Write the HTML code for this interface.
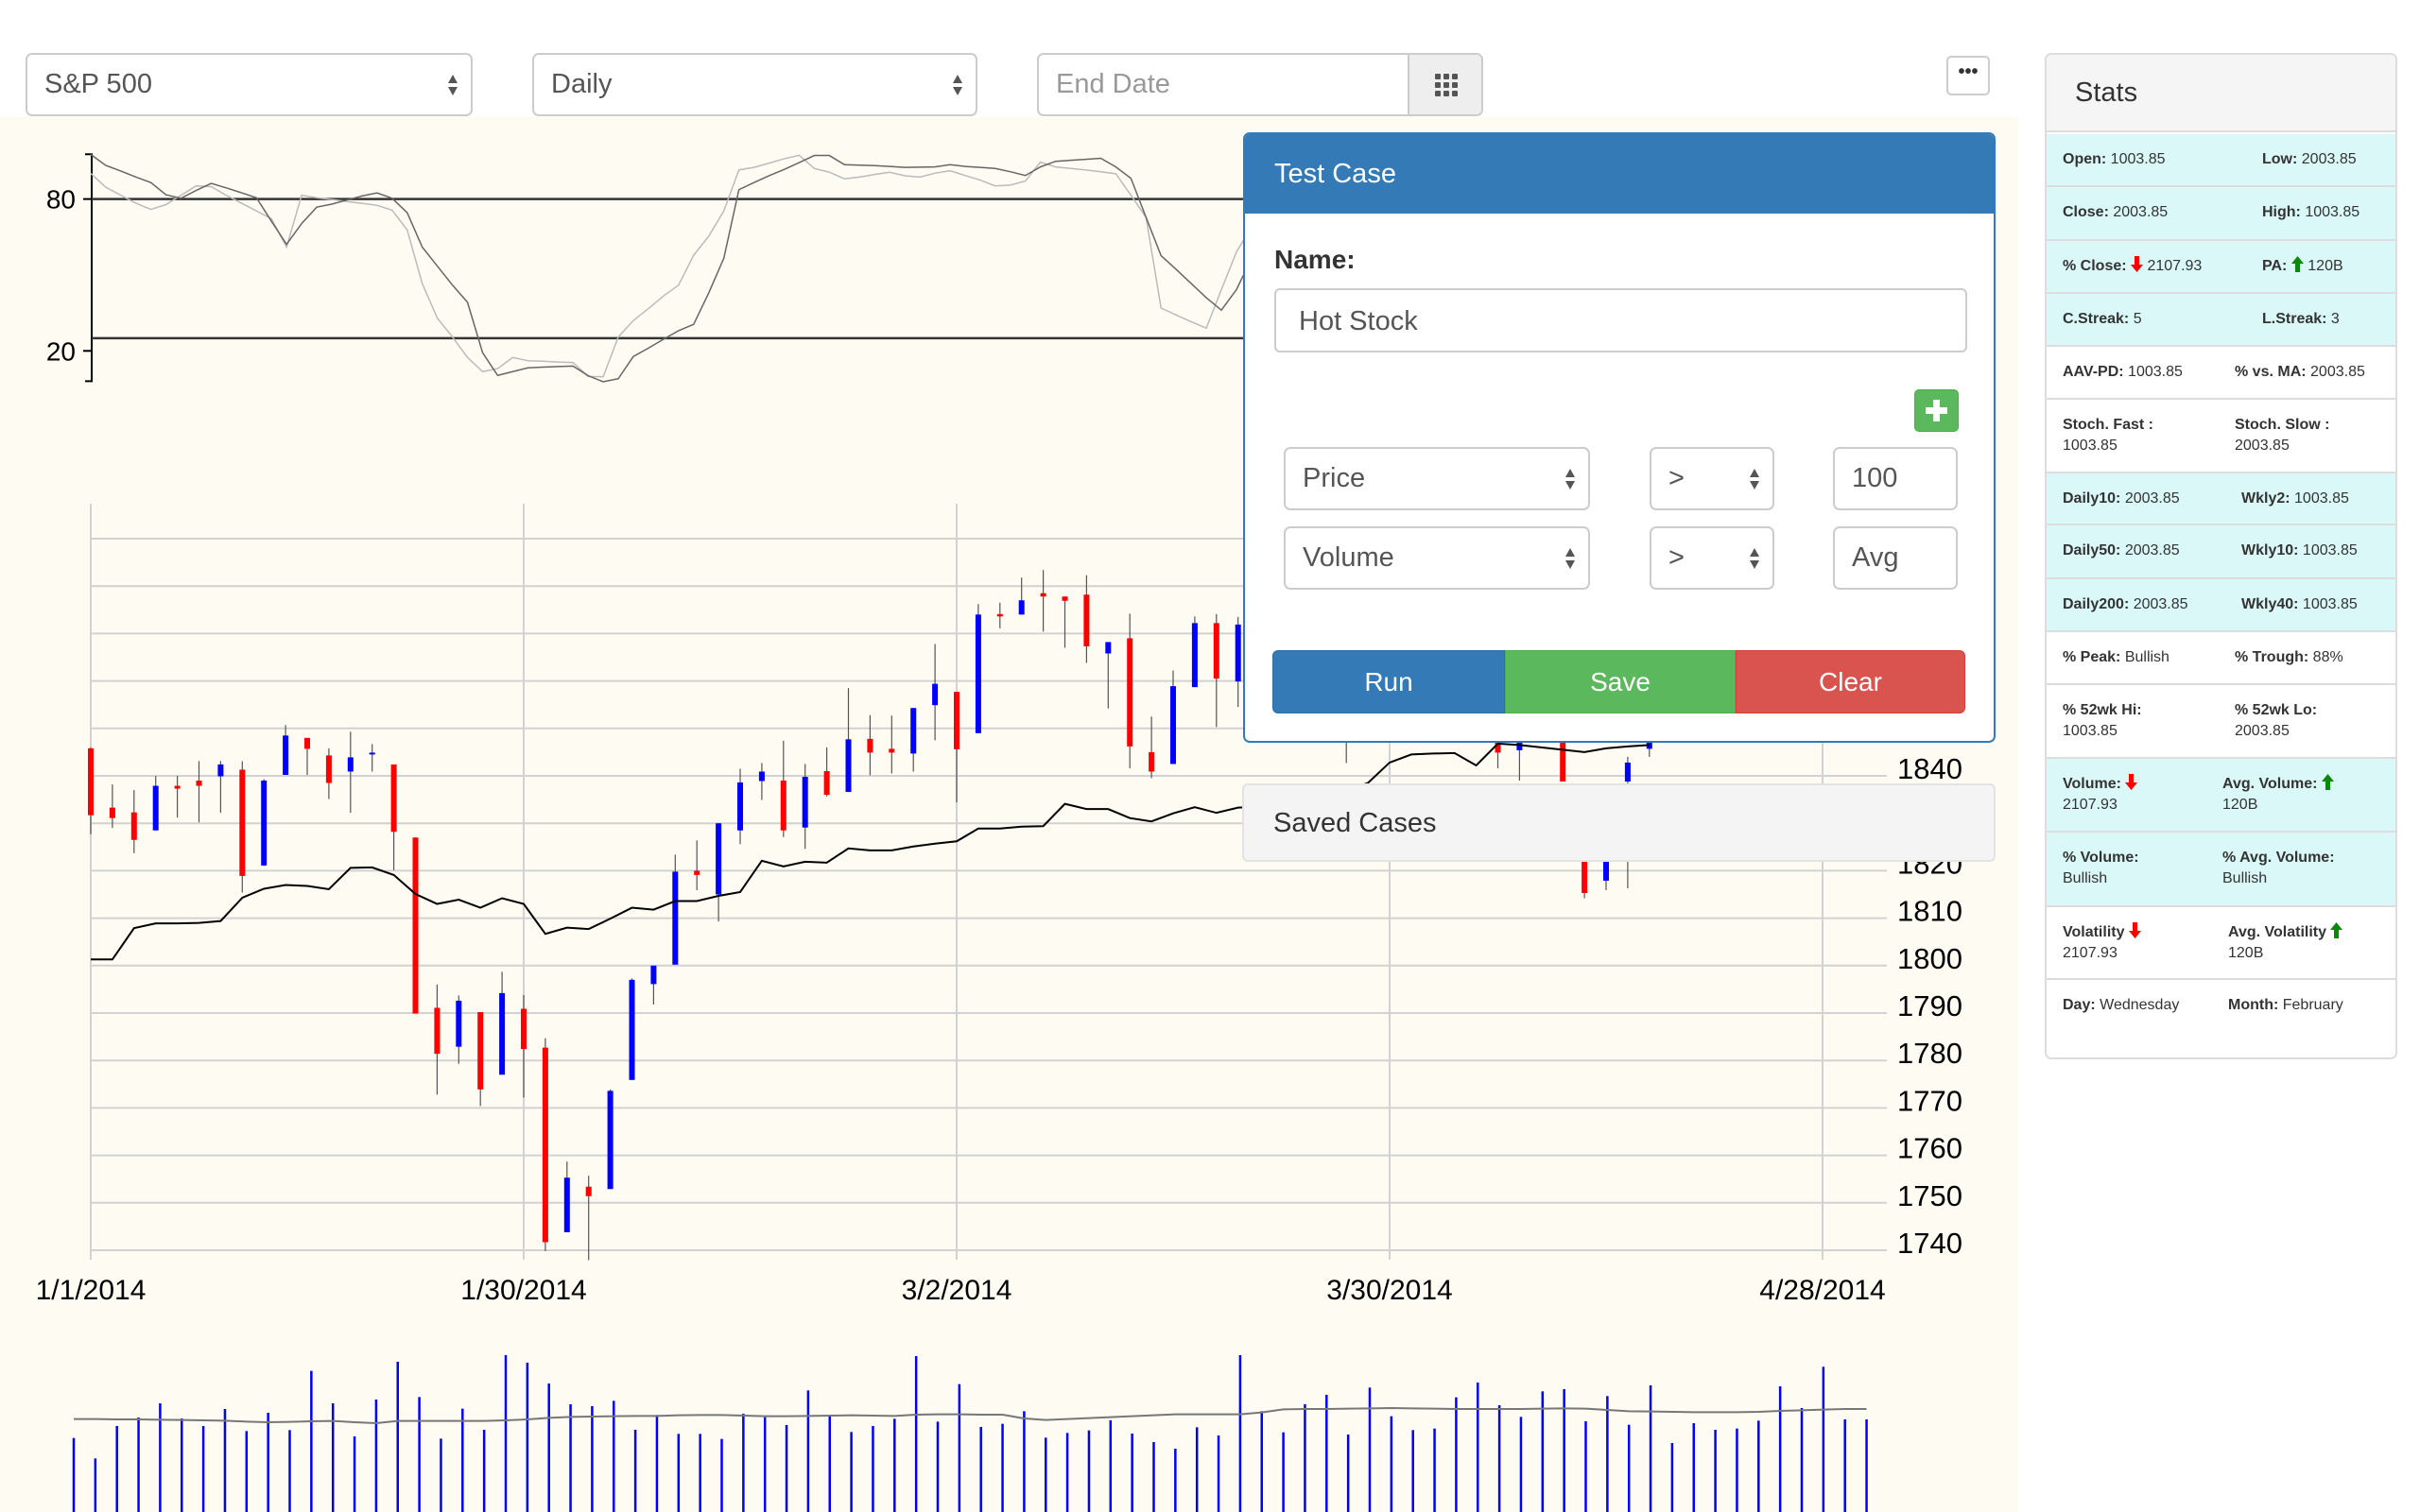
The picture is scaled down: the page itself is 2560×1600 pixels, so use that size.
<!DOCTYPE html>
<html><head><meta charset="utf-8">
<style>
*{box-sizing:border-box;margin:0;padding:0}
body{width:2560px;height:1600px;position:relative;overflow:hidden;background:#fff;font-family:"Liberation Sans",Arial,sans-serif;color:#333}
.abs{position:absolute}
.sel{position:absolute;background:#fff;border:2px solid #ccc;border-radius:7px;font-size:29px;color:#555;padding-left:18px;display:flex;align-items:center}
.arr{position:absolute;right:12px;top:50%;transform:translateY(-50%);width:14px;height:26px}
.btn{position:absolute;color:#fff;font-size:28px;display:flex;align-items:center;justify-content:center}
.row{position:absolute;left:2px;width:370px;border-top:2px solid #ddd;font-size:16px;line-height:22px;padding-top:16px}
.row .l{position:absolute;left:17px}
.row .r{position:absolute}
.cy{background:#daf8f8}
b{font-weight:bold;color:#333}
.up{color:#0a8a0a}.dn{color:#f00}
</style></head><body>
<div class="abs" style="left:0;top:124px;width:2135px;height:1476px;background:#fefbf3"></div>

<svg class="abs" style="left:0;top:0" width="2560" height="1600">
<g id="stoch"></g>
<g id="price"></g>
<g id="vol"></g>
</svg>

<!-- top controls -->
<div class="sel" style="left:27px;top:56px;width:473px;height:67px">S&amp;P 500<svg class="arr" viewBox="0 0 14 26"><path d="M7 2L12 11H2Z M7 24L12 15H2Z" fill="#555"/></svg></div>
<div class="sel" style="left:563px;top:56px;width:471px;height:67px">Daily<svg class="arr" viewBox="0 0 14 26"><path d="M7 2L12 11H2Z M7 24L12 15H2Z" fill="#555"/></svg></div>
<div class="sel" style="left:1097px;top:56px;width:472px;height:67px;color:#999;border-radius:7px">End Date
<div style="position:absolute;right:0;top:0;width:78px;height:63px;background:#eee;border-left:2px solid #ccc;border-radius:0 6px 6px 0">
<svg width="78" height="63" viewBox="0 0 78 63"><g fill="#555"><rect x="27" y="20" width="6" height="6" rx="1"/><rect x="36" y="20" width="6" height="6" rx="1"/><rect x="45" y="20" width="6" height="6" rx="1"/><rect x="27" y="29" width="6" height="6" rx="1"/><rect x="36" y="29" width="6" height="6" rx="1"/><rect x="45" y="29" width="6" height="6" rx="1"/><rect x="27" y="38" width="6" height="6" rx="1"/><rect x="36" y="38" width="6" height="6" rx="1"/><rect x="45" y="38" width="6" height="6" rx="1"/></g></svg></div></div>
<div class="abs" style="left:2059px;top:59px;width:46px;height:42px;border:2px solid #ccc;border-radius:5px;background:#fff;text-align:center;font-size:20px;line-height:30px;font-weight:bold;color:#333">•••</div>

<!-- modal -->
<div class="abs" style="left:1315px;top:140px;width:796px;height:646px;background:#fff;border:2px solid #337ab7;border-radius:7px;overflow:hidden">
<div style="height:84px;background:#337ab7;color:#fff;font-size:29px;padding:26px 0 0 31px">Test Case</div>
<div style="position:absolute;left:31px;top:117px;font-size:28px;font-weight:bold;color:#333">Name:</div>
<div style="position:absolute;left:31px;top:163px;width:733px;height:68px;border:2px solid #ccc;border-radius:6px;font-size:29px;color:#555;padding:17px 0 0 24px">Hot Stock</div>
<div style="position:absolute;left:708px;top:270px;width:47px;height:45px;background:#5cb85c;border-radius:5px;border:1px solid #4cae4c"><svg width="45" height="43"><rect x="19" y="10" width="7" height="23" fill="#fff"/><rect x="11" y="18" width="23" height="7" fill="#fff"/></svg></div>
<div class="sel" style="left:41px;top:331px;width:324px;height:67px">Price<svg class="arr" viewBox="0 0 14 26"><path d="M7 2L12 11H2Z M7 24L12 15H2Z" fill="#555"/></svg></div>
<div class="sel" style="left:428px;top:331px;width:132px;height:67px">&gt;<svg class="arr" viewBox="0 0 14 26"><path d="M7 2L12 11H2Z M7 24L12 15H2Z" fill="#555"/></svg></div>
<div class="sel" style="left:622px;top:331px;width:132px;height:67px">100</div>
<div class="sel" style="left:41px;top:415px;width:324px;height:67px">Volume<svg class="arr" viewBox="0 0 14 26"><path d="M7 2L12 11H2Z M7 24L12 15H2Z" fill="#555"/></svg></div>
<div class="sel" style="left:428px;top:415px;width:132px;height:67px">&gt;<svg class="arr" viewBox="0 0 14 26"><path d="M7 2L12 11H2Z M7 24L12 15H2Z" fill="#555"/></svg></div>
<div class="sel" style="left:622px;top:415px;width:132px;height:67px">Avg</div>
<div class="btn" style="left:29px;top:546px;width:246px;height:67px;background:#337ab7;border:1px solid #2e6da4;border-radius:6px 0 0 6px">Run</div>
<div class="btn" style="left:275px;top:546px;width:244px;height:67px;background:#5cb85c;border:1px solid #4cae4c">Save</div>
<div class="btn" style="left:519px;top:546px;width:243px;height:67px;background:#d9534f;border:1px solid #d43f3a;border-radius:0 6px 6px 0">Clear</div>
</div>
<div class="abs" style="left:1314px;top:829px;width:797px;height:83px;background:#f4f4f4;border:2px solid #e3e3e3;border-radius:6px;font-size:29px;color:#333;padding:24px 0 0 31px">Saved Cases</div>

<!-- stats -->
<div class="abs" style="left:2163px;top:56px;width:373px;height:1065px;background:#fff;border:2px solid #ddd;border-radius:7px;overflow:hidden">
<div style="height:82px;background:#f5f5f5;border-bottom:2px solid #ddd;font-size:29px;color:#333;padding:24px 0 0 30px">Stats</div>
</div>
<div id="stats"></div>

<script>
// ---------- price chart data ----------
const dates = ["1/1/2014","1/30/2014","3/2/2014","3/30/2014","4/28/2014"];
const priceTicks = [1740,1750,1760,1770,1780,1790,1800,1810,1820,1830,1840,1850,1860,1870,1880,1890];
const opens  = [1845.8,1833.3,1832.3,1828.5,1837.9,1839,1839.9,1841.3,1821.1,1840.2,1848,1844.3,1840.9,1844.5,1842.4,1827,1791.1,1782.9,1790.2,1777,1790.9,1782.7,1743.8,1753.4,1752.9,1775.9,1796.1,1800.2,1820,1815,1828.5,1838.9,1839,1829.1,1841,1836.6,1847.8,1845.7,1844.7,1854.9,1857.7,1849,1874.1,1874,1878.5,1877.8,1878.2,1865.8,1869,1845,1842.5,1858.7,1872.2,1859.9,1871,1862,1868,1858,1865,1853,1862,1870,1864,1869,1860,1850,1845.4,1856,1852,1830,1817.9,1838.8,1845.7];
const highs  = [1846,1838.2,1837,1840,1840,1843.1,1843.1,1843.1,1839.3,1850.7,1848,1845.8,1849.3,1846.7,1842.4,1827,1796,1793.7,1790.2,1798.7,1793.8,1784.7,1758.7,1755.7,1773.9,1797.3,1800,1823.4,1826.4,1830,1841.5,1842.7,1847.4,1842.5,1846,1858.5,1852.8,1852.7,1854.3,1867.8,1857.7,1876.2,1876.5,1881.8,1883.4,1877.8,1882.3,1868.2,1874.2,1852.5,1862.2,1873.6,1874.1,1873.5,1874,1872,1870,1869,1868,1866,1873,1872,1872,1871,1863,1852,1855,1858,1855,1831,1826,1844,1852];
const lows   = [1827.7,1829,1823.7,1828.5,1831.2,1830.2,1832.2,1815.4,1821,1840.2,1840.2,1835.1,1832.2,1840.9,1820.1,1789.9,1772.8,1779.3,1770.4,1777,1772.2,1739.8,1743.8,1737.9,1752.9,1775.9,1791.8,1800.2,1815.9,1809.3,1825.6,1834.9,1827.1,1824.6,1835.7,1836.6,1840.1,1840.5,1840.9,1847.5,1834.4,1849,1871.1,1874,1870.4,1867,1863.8,1854.2,1841.6,1839.5,1842.5,1858.7,1850.3,1854.5,1858,1856,1852,1853,1842.7,1850,1858,1860,1860,1856,1849,1841.6,1839,1849,1838.8,1814.2,1815.9,1816.3,1844];
const closes = [1831.7,1831.1,1826.5,1837.9,1837.3,1837.9,1842.4,1818.9,1839,1848.5,1845.7,1838.5,1843.9,1844.9,1828.2,1789.9,1781.4,1792.6,1773.9,1794.2,1782.4,1741.7,1755.3,1751.4,1773.6,1797,1800,1819.8,1819.1,1830,1838.6,1840.9,1828.5,1839.8,1836,1847.7,1844.9,1844.9,1854.3,1859.4,1845.6,1874,1873.6,1877,1877.8,1876.9,1867.3,1868.2,1846.2,1840.9,1858.9,1872.2,1860.5,1871.9,1862,1868,1858,1866,1852,1862,1870,1864,1869,1860,1852,1844.9,1852,1850,1838.8,1815.3,1825,1842.8,1850];
const movingAvg = [1801.3,1801.3,1807.9,1808.9,1808.9,1809,1809.4,1814.3,1816.2,1817,1816.8,1816.1,1820.6,1820.7,1819.1,1815.1,1813,1813.9,1812.2,1814.2,1813,1806.7,1808,1807.7,1809.9,1812.2,1811.8,1813.6,1813.6,1814.7,1815.5,1822.1,1820.9,1821.9,1821.7,1824.7,1824.3,1824.3,1825.1,1825.7,1826.2,1828.9,1828.9,1829.3,1829.4,1834.1,1833,1833,1831.1,1830.4,1832.1,1833.4,1832.2,1833.3,1833.5,1834,1835,1836,1837,1838.5,1842.8,1844.5,1844.7,1844.8,1842.2,1846.8,1846.5,1846,1845.5,1845,1845.8,1846.2,1846.5];
// ---------- stochastic data ----------
const stochTicks = [80,20];
const stochLevels = [80,25];
const stochFast = [97.7,93.3,91.1,88.7,86.5,81.7,80.3,83.4,86.2,84.4,82.5,80.5,71.2,62.1,70.3,76.8,78,79.6,81.2,82.4,80.3,74.6,61,53.5,46,39.2,19.3,10.3,11.8,13.3,13.6,13.8,14,10.2,7.8,9,17.8,21.1,24.6,28,30.5,42.9,56.6,83.7,86.5,89.2,91.7,94.4,97.2,97.2,93.6,93.4,93.2,92.9,92.5,92.6,92.7,93.6,92.9,92.5,92.1,90.8,89.3,92.7,94.9,95.3,95.7,96.1,92.7,88.2,72.8,57.6,52.2,46.6,41,36.1,44.2,56.6];
const stochSlow = [90.2,84.7,81.5,78.4,75.9,77.8,81.5,85.2,84.9,81.5,78.4,75.3,72.2,61,81.5,80.5,79.8,79,78.3,77.5,75.6,67.8,46.6,32.9,25.5,17.4,11.8,13,17.4,16.1,15.9,15.6,15.4,9.9,9.8,25.5,32,36.7,41.7,46,57.8,65.3,75.3,91.5,92.5,94.2,95.9,97.3,92.1,90.6,88,88.7,89.7,90.6,89.2,88.7,90.2,91.2,89.3,87.5,85.2,85.5,87.1,94.6,92.7,92.1,91.5,90.8,90,81.5,72.8,36.9,34.2,31.5,29,44.2,59.1,69];
// ---------- volume data (millions) ----------
const volumes = [2350,1700,2730,3000,3450,2970,2730,3270,2570,3150,2600,4480,3450,2400,3570,4770,3650,2330,3280,2610,4980,4740,4080,3420,3360,3530,2610,3080,2480,2480,2320,3120,3010,2760,3860,3070,2540,2730,2960,4950,2870,4060,2700,2800,3200,2360,2510,2590,2910,2490,2220,2010,2690,2430,4980,3200,2530,3420,3720,2460,3950,3040,2600,2650,3640,4110,3390,3020,3830,3900,2880,3680,2770,4020,2190,2820,2610,2650,2900,3990,3300,4610,2940,2940];
const avgVolume = [2950,2950,2940,2940,2930,2920,2910,2900,2870,2850,2860,2880,2890,2850,2820,2890,2890,2890,2890,2890,2910,2940,2990,3020,3030,3040,3050,3050,3070,3080,3080,3060,3040,3040,3050,3060,3070,3060,3050,3090,3100,3100,3090,3090,2970,2920,2950,2980,3010,3040,3070,3100,3100,3100,3100,3160,3260,3270,3270,3280,3290,3300,3290,3280,3270,3270,3270,3270,3280,3290,3280,3240,3200,3190,3180,3170,3170,3170,3180,3210,3230,3250,3270,3270];

const NS="http://www.w3.org/2000/svg";
function mk(parent,tag,attrs){const e=document.createElementNS(NS,tag);for(const k in attrs)e.setAttribute(k,attrs[k]);parent.appendChild(e);return e;}
// axes
const xIdx = i => 96 + i*22.9;
const yPrice = p => 1323 - (p-1740)*5.02;
const xStoch = j => 95.8 + j*15.95;
const yStoch = v => 371.3 - (v-20)*2.678;
const xVol = i => 78 + i*22.85;
const yVol = v => 1600 - v/30;

// ----- stochastic -----
const sg=document.getElementById('stoch');
let ax=mk(sg,'path',{d:`M90 ${yStoch(97.7)}H97V${yStoch(8)}H90`,stroke:'#000','stroke-width':2,fill:'none'});


stochTicks.forEach(v=>{
  const t=mk(sg,'line',{x1:88,x2:97,y1:yStoch(v),y2:yStoch(v),stroke:'#000','stroke-width':2});
  
  
  const l=mk(sg,'text',{x:80,y:yStoch(v)+10,'text-anchor':'end','font-size':28,fill:'#000'});
  l.textContent=v;
  
  
});
stochLevels.forEach(v=>{
  const h=mk(sg,'line',{x1:97,x2:1330,y1:yStoch(v),y2:yStoch(v),stroke:'#333','stroke-width':2.5});
  
  
});
const sSlow=mk(sg,'polyline',{points:stochSlow.map((v,j)=>xStoch(j)+','+yStoch(v)).join(' '),fill:'none',stroke:'#bbb','stroke-width':1.5});


const sFast=mk(sg,'polyline',{points:stochFast.map((v,j)=>xStoch(j)+','+yStoch(v)).join(' '),fill:'none',stroke:'#666','stroke-width':1.5});



// ----- price -----
const pg=document.getElementById('price');
priceTicks.forEach(p=>{
  const g=mk(pg,'line',{x1:96,x2:1996,y1:yPrice(p),y2:yPrice(p),stroke:'#d2d2d2','stroke-width':2});
  
  
  const t=mk(pg,'text',{x:2076,y:yPrice(p)+3,'text-anchor':'end','font-size':31,fill:'#000'});
  t.textContent=p;
  
  
});
dates.forEach((d,k)=>{
  const x=xIdx(k*20);
  const g=mk(pg,'line',{x1:x,x2:x,y1:533,y2:1333,stroke:'#d2d2d2','stroke-width':2});
  
  
  const t=mk(pg,'text',{x:x,y:1375,'text-anchor':'middle','font-size':30,fill:'#000'});
  t.textContent=d;
  
  
});
opens.forEach((o,i)=>{
  const c=closes[i],x=xIdx(i),up=c>=o;
  const w=mk(pg,'line',{x1:x,x2:x,y1:yPrice(highs[i]),y2:yPrice(lows[i]),stroke:'#555','stroke-width':1.2});
  
  
  const top=yPrice(Math.max(o,c)),bot=yPrice(Math.min(o,c));
  const b=mk(pg,'rect',{x:x-3,y:top,width:6,height:Math.max(2,bot-top),fill:up?'#0000ff':'#ff0000'});
  
  
});
const ma=mk(pg,'polyline',{points:movingAvg.map((v,i)=>xIdx(i)+','+yPrice(v)).join(' '),fill:'none',stroke:'#000','stroke-width':2});



// ----- volume -----
const vg=document.getElementById('vol');
volumes.forEach((v,i)=>{
  const b=mk(vg,'rect',{x:xVol(i)-1.25,y:yVol(v),width:2.5,height:1600-yVol(v),fill:'#0000ff'});
  
  
});
const av=mk(vg,'polyline',{points:avgVolume.map((v,i)=>xVol(i)+','+yVol(v)).join(' '),fill:'none',stroke:'#777','stroke-width':2});



// ----- stats rows -----
const DN='<svg width="13" height="17" viewBox="0 0 13 17" style="vertical-align:-2px"><path d="M4 0h5v9h4l-6.5 8L0 9h4z" fill="#f00"/></svg>';
const UP='<svg width="13" height="17" viewBox="0 0 13 17" style="vertical-align:-2px"><path d="M4 17h5V8h4L6.5 0 0 8h4z" fill="#0a8a0a"/></svg>';
const rows=[
 [142,196,1,'<b>Open:</b> 1003.85',2393,'<b>Low:</b> 2003.85'],
 [196,253,1,'<b>Close:</b> 2003.85',2393,'<b>High:</b> 1003.85'],
 [253,309,1,'<b>% Close:</b> '+DN+' 2107.93',2393,'<b>PA:</b> '+UP+' 120B'],
 [309,365,1,'<b>C.Streak:</b> 5',2393,'<b>L.Streak:</b> 3'],
 [365,421,0,'<b>AAV-PD:</b> 1003.85',2364,'<b>% vs. MA:</b> 2003.85'],
 [421,499,0,'<b>Stoch. Fast :</b><br>1003.85',2364,'<b>Stoch. Slow :</b><br>2003.85'],
 [499,554,1,'<b>Daily10:</b> 2003.85',2371,'<b>Wkly2:</b> 1003.85'],
 [554,611,1,'<b>Daily50:</b> 2003.85',2371,'<b>Wkly10:</b> 1003.85'],
 [611,667,1,'<b>Daily200:</b> 2003.85',2371,'<b>Wkly40:</b> 1003.85'],
 [667,723,0,'<b>% Peak:</b> Bullish',2364,'<b>% Trough:</b> 88%'],
 [723,801,0,'<b>% 52wk Hi:</b><br>1003.85',2364,'<b>% 52wk Lo:</b><br>2003.85'],
 [801,879,1,'<b>Volume:</b> '+DN+'<br>2107.93',2351,'<b>Avg. Volume:</b> '+UP+'<br>120B'],
 [879,958,1,'<b>% Volume:</b><br>Bullish',2351,'<b>% Avg. Volume:</b><br>Bullish'],
 [958,1035,0,'<b>Volatility</b> '+DN+'<br>2107.93',2357,'<b>Avg. Volatility</b> '+UP+'<br>120B'],
 [1035,1119,0,'<b>Day:</b> Wednesday',2357,'<b>Month:</b> February']
];
const st=document.getElementById('stats');
rows.forEach(r=>{
  const d=document.createElement('div');
  d.className='row'+(r[2]?' cy':'');
  d.style.cssText=`left:2165px;top:${r[0]}px;height:${r[1]-r[0]}px;width:369px;`+(r[0]===142?'border-top:none;':'');
  
  
  d.innerHTML=`<span class="l">${r[3]}</span><span class="r" style="left:${r[4]-2165}px">${r[5]}</span>`;
  st.appendChild(d);
});
</script>
</body></html>
